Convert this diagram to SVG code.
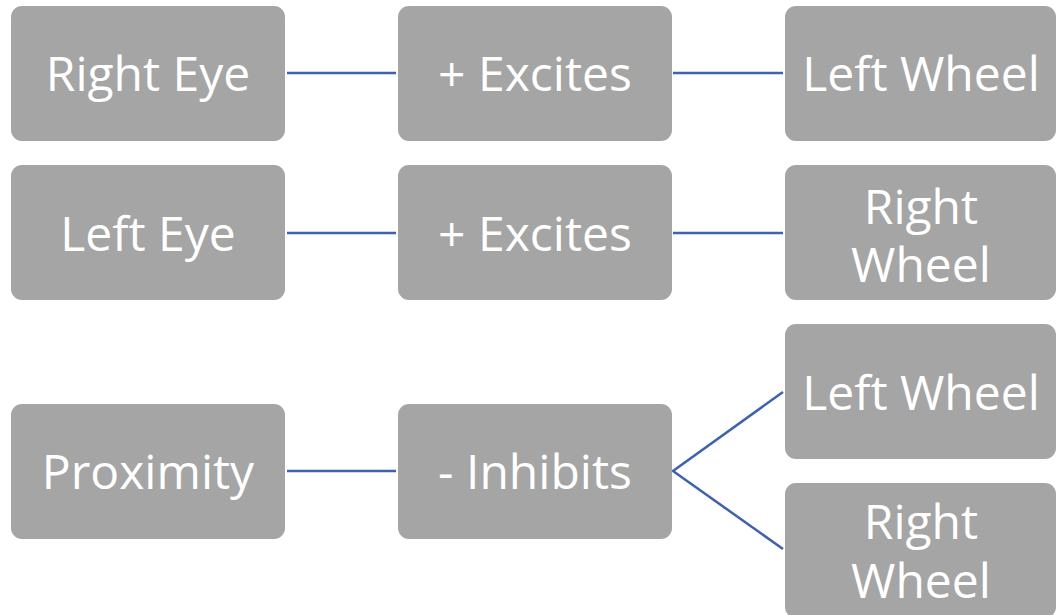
<svg xmlns="http://www.w3.org/2000/svg" width="1056" height="615" viewBox="0 0 1056 615">
<style>
.box{fill:#a5a5a5;}
.t{font-family:"Open Sans","Liberation Sans",sans-serif;font-size:48px;fill:#ffffff;text-anchor:middle;}
.c{stroke:#3f62ac;stroke-width:2.5;fill:none;}
</style>
<rect width="1056" height="615" fill="#ffffff"/>
<g id="connectors">
<line class="c" x1="287" y1="73" x2="396" y2="73"/>
<line class="c" x1="673" y1="73" x2="783" y2="73"/>
<line class="c" x1="287" y1="233" x2="396" y2="233"/>
<line class="c" x1="673" y1="233" x2="783" y2="233"/>
<line class="c" x1="287" y1="471" x2="396" y2="471"/>
<polyline class="c" points="783,392 673,471 783,549"/>
</g>
<g id="right-eye"><rect class="box" x="11" y="6" width="274" height="135" rx="11"/><text class="t" x="148" y="91">Right Eye</text></g>
<g id="excites-1"><rect class="box" x="398" y="6" width="274" height="135" rx="11"/><text class="t" x="535" y="91">+ Excites</text></g>
<g id="left-wheel-1"><rect class="box" x="785" y="6" width="271" height="135" rx="11"/><text class="t" x="921" y="91">Left Wheel</text></g>
<g id="left-eye"><rect class="box" x="11" y="165" width="274" height="135" rx="11"/><text class="t" x="148" y="251">Left Eye</text></g>
<g id="excites-2"><rect class="box" x="398" y="165" width="274" height="135" rx="11"/><text class="t" x="535" y="251">+ Excites</text></g>
<g id="right-wheel-1"><rect class="box" x="785" y="165" width="271" height="135" rx="11"/><text class="t" x="921" y="224">Right<tspan x="921" dy="58">Wheel</tspan></text></g>
<g id="proximity"><rect class="box" x="11" y="404" width="274" height="135" rx="11"/><text class="t" x="148" y="489">Proximity</text></g>
<g id="inhibits"><rect class="box" x="398" y="404" width="274" height="135" rx="11"/><text class="t" x="535" y="489">- Inhibits</text></g>
<g id="left-wheel-2"><rect class="box" x="785" y="324" width="271" height="135" rx="11"/><text class="t" x="921" y="410">Left Wheel</text></g>
<g id="right-wheel-2"><rect class="box" x="785" y="483" width="271" height="135" rx="11"/><text class="t" x="921" y="539">Right<tspan x="921" dy="59">Wheel</tspan></text></g>
</svg>
